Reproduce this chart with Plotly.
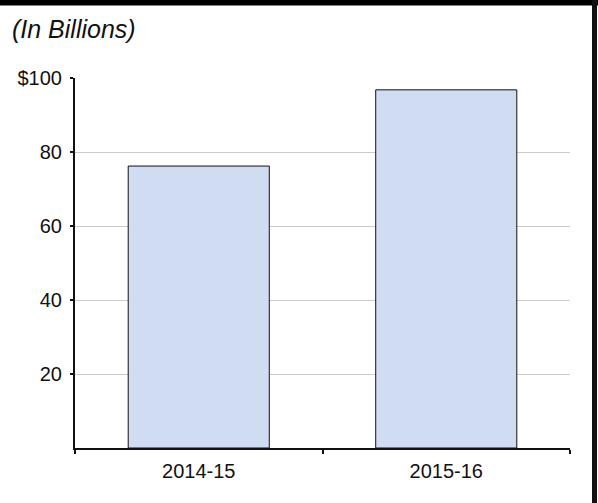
import plotly.graph_objects as go

# Annual amounts, in billions of dollars
years = ["2014-15", "2015-16"]
amounts = [76.2, 96.8]

tick_values = [20, 40, 60, 80, 100]
tick_labels = ["20", "40", "60", "80", "$100"]

W, H = 598, 503
L, R, T, B = 75, 28, 78, 55
plot_w = W - L - R
plot_h = H - T - B


def px_x(px):
    return (px - L) / plot_w


def px_y(py):
    return (H - B - py) / plot_h


fig = go.Figure(
    go.Bar(
        x=years,
        y=amounts,
        width=0.57,
        marker=dict(color="#cfdcf1", line=dict(color="#111111", width=1)),
        hoverinfo="x+y",
    )
)

fig.update_layout(
    width=W,
    height=H,
    margin=dict(l=L, r=R, t=T, b=B),
    paper_bgcolor="white",
    plot_bgcolor="white",
    font=dict(family="Liberation Sans, Arial, Helvetica, sans-serif", size=20, color="#111111"),
    showlegend=False,
    title=dict(
        text="<i>(In Billions)</i>",
        x=12 / W,
        xanchor="left",
        xref="container",
        y=1 - 29 / H,
        yanchor="middle",
        font=dict(size=25, color="#111111"),
    ),
)

fig.update_yaxes(
    range=[0, 100],
    tickvals=tick_values,
    ticktext=tick_labels,
    ticks="outside",
    ticklen=3,
    tickwidth=2,
    tickcolor="#111111",
    ticklabelstandoff=4,
    showline=True,
    linecolor="#111111",
    linewidth=2,
    showgrid=True,
    gridcolor="#cccccc",
    gridwidth=1,
    zeroline=False,
    fixedrange=True,
)

fig.update_xaxes(
    tickson="boundaries",
    ticks="outside",
    ticklen=4,
    tickwidth=2,
    tickcolor="#111111",
    ticklabelstandoff=4,
    showline=True,
    linecolor="#111111",
    linewidth=2,
    showgrid=False,
    fixedrange=True,
)

# Frame: heavy rule along the top and down the right side
fig.add_shape(
    type="rect", xref="paper", yref="paper",
    x0=px_x(0), x1=px_x(W), y0=px_y(5.5), y1=px_y(0),
    fillcolor="#000000", line=dict(width=0), layer="above",
)
fig.add_shape(
    type="rect", xref="paper", yref="paper",
    x0=px_x(592), x1=px_x(597), y0=px_y(H), y1=px_y(0),
    fillcolor="#111111", line=dict(width=0), layer="above",
)

fig.write_html("out.html")
